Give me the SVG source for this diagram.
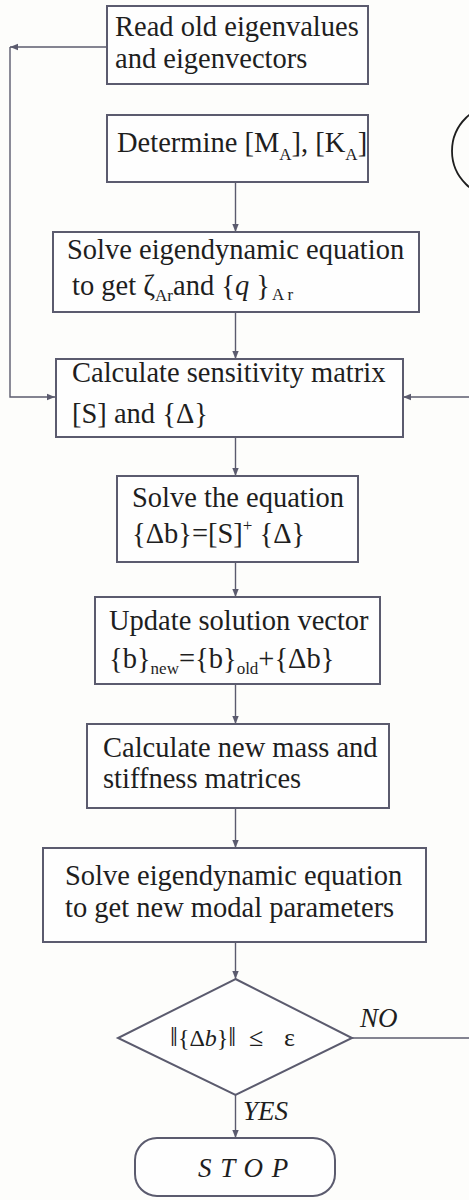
<svg xmlns="http://www.w3.org/2000/svg" width="469" height="1200" viewBox="0 0 469 1200">
<defs>
<style>
.bg{fill:#fdfdfb}
.box{fill:#fefefe;stroke:#5b5b6e;stroke-width:2}
.ln{fill:none;stroke:#5b5b6e;stroke-width:1.4}
.t{font-family:"Liberation Serif","Times New Roman",serif;font-size:28.5px;fill:#1e1e1e}
.it{font-style:italic}
.sub{font-size:17px}
</style>
<marker id="ah" markerUnits="userSpaceOnUse" markerWidth="9" markerHeight="8" refX="8" refY="4" orient="auto">
<path d="M0,0.8 L8,4 L0,7.2 Z" fill="#5b5b6e"/>
</marker>
</defs>
<rect class="bg" x="0" y="0" width="469" height="1200"/>

<g id="connectors">
<path class="ln" d="M107,47 H10" marker-end="url(#ah)"/>
<path class="ln" d="M10,47 V397 H55" marker-end="url(#ah)"/>
<path class="ln" d="M235.5,182 V232" marker-end="url(#ah)"/>
<path class="ln" d="M235.5,312 V359" marker-end="url(#ah)"/>
<path class="ln" d="M469,397 H403" marker-end="url(#ah)"/>
<path class="ln" d="M235.5,437 V476" marker-end="url(#ah)"/>
<path class="ln" d="M235.5,562 V597" marker-end="url(#ah)"/>
<path class="ln" d="M235.5,684 V724" marker-end="url(#ah)"/>
<path class="ln" d="M235.5,808 V848" marker-end="url(#ah)"/>
<path class="ln" d="M235.5,942 V979" marker-end="url(#ah)"/>
<path class="ln" d="M235.5,1095 V1138" marker-end="url(#ah)"/>
<path class="ln" d="M352,1038 H469"/>
</g>

<g id="start">
<ellipse cx="500" cy="151" rx="48" ry="47" fill="none" stroke="#1e1e1e" stroke-width="1.8"/>
</g>

<g id="n1">
<rect class="box" x="107" y="6" width="261" height="78"/>
<text class="t" x="115" y="36">Read old eigenvalues</text>
<text class="t" x="115" y="68">and eigenvectors</text>
</g>

<g id="n2">
<rect class="box" x="107" y="115" width="261" height="67"/>
<text class="t" x="117" y="152">Determine [M<tspan class="sub" dy="8">A</tspan><tspan dy="-8">], [K</tspan><tspan class="sub" dy="8">A</tspan><tspan dy="-8">]</tspan></text>
</g>

<g id="n3">
<rect class="box" x="53" y="232" width="366" height="80"/>
<text class="t" x="67" y="259">Solve eigendynamic equation</text>
<text class="t" x="72" y="295">to get ζ<tspan class="sub" dy="6">Ar</tspan><tspan dy="-6">and {</tspan><tspan class="it">q</tspan><tspan> }</tspan></text>
<text class="t sub" x="272" y="300">A  r</text>
</g>

<g id="n4">
<rect class="box" x="56" y="359" width="347" height="78"/>
<text class="t" x="72" y="382">Calculate sensitivity matrix</text>
<text class="t" x="72" y="423">[S] and {Δ}</text>
</g>

<g id="n5">
<rect class="box" x="117" y="476" width="241" height="86"/>
<text class="t" x="132" y="507">Solve the equation</text>
<text class="t" x="132" y="543">{Δb}=[S]<tspan class="sub" dy="-12">+</tspan><tspan dy="12"> {Δ}</tspan></text>
</g>

<g id="n6">
<rect class="box" x="95" y="597" width="285" height="87"/>
<text class="t" x="109" y="630">Update solution vector</text>
<text class="t" x="109" y="668">{b}<tspan class="sub" dy="6">new</tspan><tspan dy="-6">={b}</tspan><tspan class="sub" dy="6">old</tspan><tspan dy="-6">+{Δb}</tspan></text>
</g>

<g id="n7">
<rect class="box" x="87" y="724" width="302" height="84"/>
<text class="t" x="103" y="757">Calculate new mass and</text>
<text class="t" x="103" y="788">stiffness matrices</text>
</g>

<g id="n8">
<rect class="box" x="43" y="848" width="383" height="94"/>
<text class="t" x="65" y="885">Solve eigendynamic equation</text>
<text class="t" x="65" y="917">to get new modal parameters</text>
</g>

<g id="n9">
<path class="box" d="M235.5,979 L352,1038 L235.5,1095 L118,1038 Z"/>
<text class="t" x="170" y="1046" style="font-size:24px"><tspan style="font-size:28px">‖</tspan>{Δ<tspan class="it">b</tspan>}<tspan style="font-size:28px">‖</tspan></text>
<text class="t" x="249" y="1046" style="font-size:26px">≤</text>
<text class="t" x="284" y="1046" style="font-size:26px">ε</text>
<text class="t it" x="360" y="1027" style="font-size:27px">NO</text>
<text class="t it" x="243" y="1120" style="font-size:27px">YES</text>
</g>

<g id="n10">
<rect class="box" x="135" y="1138" width="200" height="58" rx="22"/>
<text class="t it" x="198" y="1177" style="font-size:27px;letter-spacing:1px">S T O P</text>
</g>
</svg>
